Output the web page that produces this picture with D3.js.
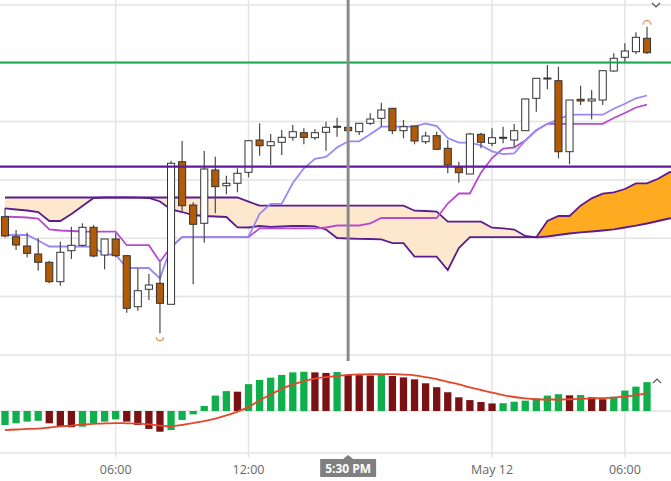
<!DOCTYPE html>
<html>
<head>
<meta charset="utf-8">
<script src="https://cdn.jsdelivr.net/npm/d3@7"></script>
<style>
  html, body { margin: 0; padding: 0; background: #fff; }
  svg { display: block; font-family: "Open Sans", "DejaVu Sans", sans-serif; }
</style>
</head>
<body>
<div id="vis-container"></div>
<script>
// 30 minute candles, the 16:00-17:00 break is skipped
const times = [
  "05-11 01:00","05-11 01:30","05-11 02:00","05-11 02:30","05-11 03:00","05-11 03:30","05-11 04:00","05-11 04:30","05-11 05:00","05-11 05:30",
  "05-11 06:00","05-11 06:30","05-11 07:00","05-11 07:30","05-11 08:00","05-11 08:30","05-11 09:00","05-11 09:30","05-11 10:00","05-11 10:30",
  "05-11 11:00","05-11 11:30","05-11 12:00","05-11 12:30","05-11 13:00","05-11 13:30","05-11 14:00","05-11 14:30","05-11 15:00","05-11 15:30",
  "05-11 17:00","05-11 17:30","05-11 18:00","05-11 18:30","05-11 19:00","05-11 19:30","05-11 20:00","05-11 20:30","05-11 21:00","05-11 21:30",
  "05-11 22:00","05-11 22:30","05-11 23:00","05-11 23:30","05-12 00:00","05-12 00:30","05-12 01:00","05-12 01:30","05-12 02:00","05-12 02:30",
  "05-12 03:00","05-12 03:30","05-12 04:00","05-12 04:30","05-12 05:00","05-12 05:30","05-12 06:00","05-12 06:30","05-12 07:00"
];

const opens = [4113.83,4111.83,4110.90,4110.10,4109.27,4107.33,4110.43,4110.97,4112.77,4110.00,
  4111.60,4109.93,4104.83,4106.57,4107.17,4105.07,4119.33,4115.00,4113.17,4118.50,
  4116.93,4117.17,4118.27,4121.50,4120.93,4121.27,4121.77,4122.23,4121.73,4122.27,
  4122.87,4122.77,4122.33,4123.17,4123.67,4124.67,4122.43,4122.90,4121.33,4121.93,
  4120.67,4118.77,4118.10,4122.07,4121.17,4121.77,4121.50,4122.43,4125.67,4127.70,
  4127.43,4120.33,4125.57,4125.40,4125.50,4128.40,4129.77,4130.33,4131.67];
const highs = [4114.70,4112.50,4112.23,4111.67,4109.43,4111.33,4112.83,4113.17,4113.00,4111.60,
  4112.17,4110.00,4108.67,4108.10,4109.23,4119.43,4121.40,4115.27,4120.40,4119.83,
  4117.93,4118.67,4121.50,4123.17,4122.10,4122.50,4123.00,4122.67,4122.60,4123.33,
  4123.73,4122.85,4123.20,4124.17,4125.23,4124.70,4123.50,4122.95,4122.33,4122.33,
  4121.50,4119.33,4122.23,4122.23,4122.67,4122.83,4123.10,4125.65,4127.70,4129.00,
  4128.83,4125.50,4126.93,4126.50,4128.45,4130.17,4131.17,4132.27,4132.83];
const lows = [4111.75,4110.50,4109.77,4108.43,4107.17,4106.93,4109.60,4110.83,4109.77,4108.57,
  4109.77,4104.23,4104.43,4105.50,4102.17,4105.07,4114.33,4107.07,4111.23,4114.17,
  4116.07,4116.27,4117.77,4119.93,4119.00,4120.00,4121.43,4121.07,4121.50,4120.43,
  4121.83,4122.40,4122.00,4123.00,4122.83,4122.10,4121.67,4121.07,4121.10,4120.55,
  4118.17,4117.23,4118.10,4120.67,4120.90,4121.17,4120.83,4122.40,4124.33,4126.57,
  4119.67,4119.07,4125.00,4123.57,4125.00,4128.33,4129.17,4130.10,4130.10];
const closes = [4111.90,4111.00,4110.17,4109.27,4107.33,4110.27,4110.97,4112.77,4109.90,4111.60,
  4109.93,4104.67,4106.43,4107.00,4105.17,4119.17,4114.93,4113.07,4118.60,4116.83,
  4117.17,4118.17,4121.43,4120.93,4121.33,4121.77,4122.33,4121.77,4122.23,4122.77,
  4122.80,4122.43,4123.17,4123.60,4124.50,4122.43,4122.83,4121.40,4121.90,4120.57,
  4119.00,4118.23,4122.10,4121.27,4121.73,4121.75,4122.43,4125.60,4127.67,4127.63,
  4120.33,4125.50,4125.40,4125.60,4128.43,4129.67,4130.40,4131.77,4130.23];

// ichimoku lines
const tenkan = [4112.00,4112.00,4112.00,4111.45,4110.85,4110.85,4110.85,4110.85,4110.82,4110.05,
  4110.05,4108.70,4108.70,4108.70,4107.67,4110.80,4111.78,4111.78,4111.78,4111.78,
  4111.78,4111.78,4111.83,4114.12,4115.12,4115.12,4117.20,4118.67,4119.62,4119.80,
  4120.75,4121.37,4121.37,4122.08,4122.83,4122.83,4122.83,4122.83,4123.15,4122.89,
  4121.70,4121.23,4121.23,4120.97,4120.37,4120.09,4120.17,4121.44,4122.47,4123.12,
  4123.55,4124.03,4124.03,4124.03,4124.03,4124.62,4125.12,4125.67,4125.95];
const kijun = [4113.83,4113.80,4113.75,4113.65,4112.55,4112.45,4112.40,4112.35,4112.33,4112.33,
  4112.33,4110.98,4110.98,4110.98,4109.33,4110.80,4111.78,4111.78,4111.78,4111.78,
  4111.78,4111.78,4111.78,4112.67,4112.67,4112.67,4112.67,4112.67,4112.67,4112.75,
  4112.95,4112.95,4112.95,4113.17,4113.70,4113.70,4113.70,4113.70,4113.70,4113.70,
  4115.15,4116.15,4116.15,4118.23,4119.70,4120.65,4120.75,4121.44,4122.47,4123.12,
  4123.12,4123.12,4123.12,4123.12,4123.12,4123.70,4124.20,4124.75,4125.03];
// leading spans run 3 bars past the last candle
const spanA = [4114.67,4114.55,4114.45,4114.30,4113.40,4113.40,4114.10,4114.90,4115.70,4115.75,
  4115.75,4115.75,4115.73,4115.70,4115.35,4114.55,4114.30,4114.00,4113.90,4113.85,
  4113.80,4112.77,4112.75,4112.90,4112.80,4112.85,4112.91,4112.90,4112.87,4112.55,
  4111.70,4111.65,4111.62,4111.60,4111.57,4111.19,4111.19,4109.84,4109.84,4109.84,
  4108.50,4110.70,4111.78,4111.78,4111.78,4111.78,4111.78,4111.78,4111.78,4113.40,
  4113.90,4113.90,4114.93,4115.67,4116.14,4116.27,4116.60,4117.16,4117.16,4117.62,
  4118.26,4118.50];
const spanB = [4115.75,4115.75,4115.75,4115.75,4115.75,4115.75,4115.75,4115.75,4115.75,4115.75,
  4115.75,4115.75,4115.75,4115.75,4115.75,4115.75,4115.75,4115.75,4115.75,4115.75,
  4115.75,4115.75,4115.33,4114.93,4114.93,4114.93,4114.93,4114.93,4114.93,4114.93,
  4114.93,4114.93,4114.93,4114.93,4114.93,4114.93,4114.93,4114.43,4114.40,4114.33,
  4113.33,4113.33,4113.33,4113.33,4112.73,4112.67,4112.55,4111.90,4111.77,4111.85,
  4112.00,4112.15,4112.27,4112.35,4112.45,4112.57,4112.75,4112.93,4113.15,4113.40,
  4113.65,4113.75];

// horizontal levels
const levelPrices = [4129.25, 4118.83];

// lower panel: histogram and its signal line
const histValues = [-0.50,-0.44,-0.38,-0.35,-0.44,-0.54,-0.58,-0.56,-0.44,-0.38,
  -0.30,-0.38,-0.50,-0.64,-0.74,-0.68,-0.32,-0.12,0.18,0.55,
  0.71,0.69,0.96,1.11,1.19,1.29,1.38,1.40,1.38,1.36,
  1.39,1.29,1.28,1.27,1.32,1.25,1.20,1.13,0.99,0.85,
  0.67,0.49,0.39,0.32,0.27,0.28,0.33,0.37,0.45,0.55,
  0.60,0.56,0.57,0.49,0.42,0.51,0.73,0.87,1.03];
const signalValues = [-0.68,-0.66,-0.64,-0.63,-0.59,-0.55,-0.52,-0.48,-0.46,-0.44,
  -0.43,-0.44,-0.45,-0.48,-0.52,-0.54,-0.50,-0.43,-0.36,-0.27,
  -0.16,-0.02,0.14,0.38,0.59,0.79,0.95,1.07,1.16,1.21,
  1.25,1.29,1.31,1.32,1.32,1.32,1.30,1.27,1.21,1.14,
  1.04,0.95,0.84,0.75,0.66,0.57,0.50,0.45,0.42,0.41,
  0.41,0.42,0.43,0.45,0.46,0.48,0.52,0.57,0.64];

// grid and axis
const gridPrices = [4135, 4129.17, 4123.34, 4117.51, 4111.68, 4105.85];
const lowGrid = [2, 0, -1.5];
const tickTimes = ["05-11 06:00", "05-11 12:00", "05-12 00:00", "05-12 06:00"];
const tickLabels = ["06:00", "12:00", "May 12", "06:00"];
const crossTime = "05-11 17:30";
const crossLabel = "5:30 PM";

let width = 671, height = 481,
  mainBottom = 355, lowBottom = 453;

let svg = d3.select("#vis-container")
  .append("svg")
  .attr("width", width)
  .attr("height", height);

let x = d3.scaleLinear().domain([0, times.length - 1]).range([5, 647]);
let y = d3.scaleLinear().domain([4100, 4135.5]).range([mainBottom, 0]);
let yLow = d3.scaleLinear().domain([-1.5, 2]).range([lowBottom, mainBottom]);
let step = x(1) - x(0);

let defs = svg.append("defs");
defs.append("clipPath").attr("id", "plotClip")
  .append("rect").attr("x", 0).attr("y", 0).attr("width", width).attr("height", mainBottom);

// gridlines
svg.append("g")
  .selectAll("line")
  .data(gridPrices)
  .join("line")
    .attr("x1", 0).attr("x2", width)
    .attr("y1", d => y(d)).attr("y2", d => y(d))
    .attr("stroke", "#e3e3e3").attr("stroke-width", 1.5);

svg.append("g")
  .selectAll("line")
  .data(lowGrid)
  .join("line")
    .attr("x1", 0).attr("x2", width)
    .attr("y1", d => yLow(d)).attr("y2", d => yLow(d))
    .attr("stroke", "#e3e3e3").attr("stroke-width", 1.5);

svg.append("g")
  .selectAll("line")
  .data(tickTimes)
  .join("line")
    .attr("x1", d => x(times.indexOf(d))).attr("x2", d => x(times.indexOf(d)))
    .attr("y1", 0).attr("y2", lowBottom + 4)
    .attr("stroke", "#e3e3e3").attr("stroke-width", 1.5);

let plot = svg.append("g").attr("clip-path", "url(#plotClip)");

// cloud, peach where span B is on top, orange where span A is on top
let cloudIdx = d3.range(spanA.length);
defs.append("clipPath").attr("id", "aboveA")
  .append("path")
  .attr("d", d3.area().x(i => x(i)).y0(0).y1(i => y(spanA[i]))(cloudIdx));
defs.append("clipPath").attr("id", "belowA")
  .append("path")
  .attr("d", d3.area().x(i => x(i)).y0(mainBottom).y1(i => y(spanA[i]))(cloudIdx));

let band = d3.area().x(i => x(i)).y0(i => y(spanA[i])).y1(i => y(spanB[i]));

plot.append("path")
  .attr("d", band(cloudIdx))
  .attr("fill", "#fde8cd")
  .attr("clip-path", "url(#aboveA)");
plot.append("path")
  .attr("d", band(cloudIdx))
  .attr("fill", "#ffab22")
  .attr("clip-path", "url(#belowA)");

let spanLine = arr => d3.line().x((d, i) => x(i)).y(d => y(d))(arr);

plot.append("path").attr("d", spanLine(spanB))
  .attr("fill", "none").attr("stroke", "#5b1c8e").attr("stroke-width", 1.8);
plot.append("path").attr("d", spanLine(spanA))
  .attr("fill", "none").attr("stroke", "#5b1c8e").attr("stroke-width", 1.8);

plot.append("path").attr("d", spanLine(kijun))
  .attr("fill", "none").attr("stroke", "#b64ccc").attr("stroke-width", 1.8);
plot.append("path").attr("d", spanLine(tenkan))
  .attr("fill", "none").attr("stroke", "#9a88f4").attr("stroke-width", 1.8);

// candles
let bw = step * 0.64;
let candle = plot.append("g")
  .selectAll("g")
  .data(times)
  .join("g");

candle.append("line")
  .attr("x1", (d, i) => x(i)).attr("x2", (d, i) => x(i))
  .attr("y1", (d, i) => y(highs[i])).attr("y2", (d, i) => y(lows[i]))
  .attr("stroke", "#4a4a4a").attr("stroke-width", 1.2);

candle.append("rect")
  .attr("x", (d, i) => x(i) - bw / 2)
  .attr("y", (d, i) => y(Math.max(opens[i], closes[i])))
  .attr("width", bw)
  .attr("height", (d, i) => Math.max(1, Math.abs(y(opens[i]) - y(closes[i]))))
  .attr("fill", (d, i) => closes[i] < opens[i] ? "#b35a06" : "#ffffff")
  .attr("stroke", "#333")
  .attr("stroke-width", 1);

// level lines
plot.append("g")
  .selectAll("line")
  .data(levelPrices)
  .join("line")
    .attr("x1", 0).attr("x2", width)
    .attr("y1", d => y(d)).attr("y2", d => y(d))
    .attr("stroke", (d, i) => i == 0 ? "#1ba550" : "#5e1a9c")
    .attr("stroke-width", 2.2);

// high / low markers
let hiIdx = d3.maxIndex(highs), loIdx = d3.minIndex(lows);
svg.append("path")
  .attr("d", `M${x(hiIdx) - 4},${y(highs[hiIdx]) - 2} A4,4 0 0 1 ${x(hiIdx) + 4},${y(highs[hiIdx]) - 2}`)
  .attr("fill", "none").attr("stroke", "#e38a48").attr("stroke-width", 1.2);
svg.append("path")
  .attr("d", `M${x(loIdx) - 3.5},${y(lows[loIdx]) + 4} A3.5,3.5 0 0 0 ${x(loIdx) + 3.5},${y(lows[loIdx]) + 4}`)
  .attr("fill", "none").attr("stroke", "#e38a48").attr("stroke-width", 1.2);

// histogram
let hb = step * 0.66;
svg.append("g")
  .selectAll("rect")
  .data(histValues)
  .join("rect")
    .attr("x", (d, i) => x(i) - hb / 2)
    .attr("y", d => Math.min(yLow(d), yLow(0)))
    .attr("width", hb)
    .attr("height", d => Math.abs(yLow(d) - yLow(0)))
    .attr("fill", (d, i) => (i == 0 || d >= histValues[i - 1]) ? "#0fb04c" : "#7a1214");

svg.append("path")
  .datum(signalValues)
  .attr("fill", "none")
  .attr("stroke", "#e4472c")
  .attr("stroke-width", 1.8)
  .attr("d", d3.line()
    .curve(d3.curveMonotoneX)
    .x((d, i) => x(i))
    .y(d => yLow(d)));

// crosshair
let cx = x(times.indexOf(crossTime));
svg.append("line")
  .attr("x1", cx).attr("x2", cx)
  .attr("y1", 0).attr("y2", 361)
  .attr("stroke", "#8a8a8a").attr("stroke-width", 3);

// x labels
svg.append("g")
  .selectAll("text")
  .data(tickTimes)
  .join("text")
    .attr("x", d => x(times.indexOf(d)))
    .attr("y", 474)
    .attr("text-anchor", "middle")
    .attr("font-size", "12.5px")
    .attr("fill", "#666")
    .text((d, i) => tickLabels[i]);

let lab = svg.append("g");
let labText = lab.append("text")
  .attr("x", cx).attr("y", 473)
  .attr("text-anchor", "middle")
  .attr("font-size", "12px")
  .attr("font-weight", "bold")
  .attr("fill", "#fff")
  .text(crossLabel);
let tw = labText.node().getComputedTextLength() + 10;
lab.insert("path", "text")
  .attr("d", `M${cx - tw / 2},459 H${cx - 5} L${cx},455 L${cx + 5},459 H${cx + tw / 2} V477 H${cx - tw / 2} Z`)
  .attr("fill", "#808080");

// small chevrons at the right
svg.append("path").attr("d", "M652,3 L656,7 L660,3")
  .attr("fill", "none").attr("stroke", "#555").attr("stroke-width", 1.2);
svg.append("path").attr("d", "M653,383 L657,379 L661,383")
  .attr("fill", "none").attr("stroke", "#555").attr("stroke-width", 1.2);
</script>
</body>
</html>
